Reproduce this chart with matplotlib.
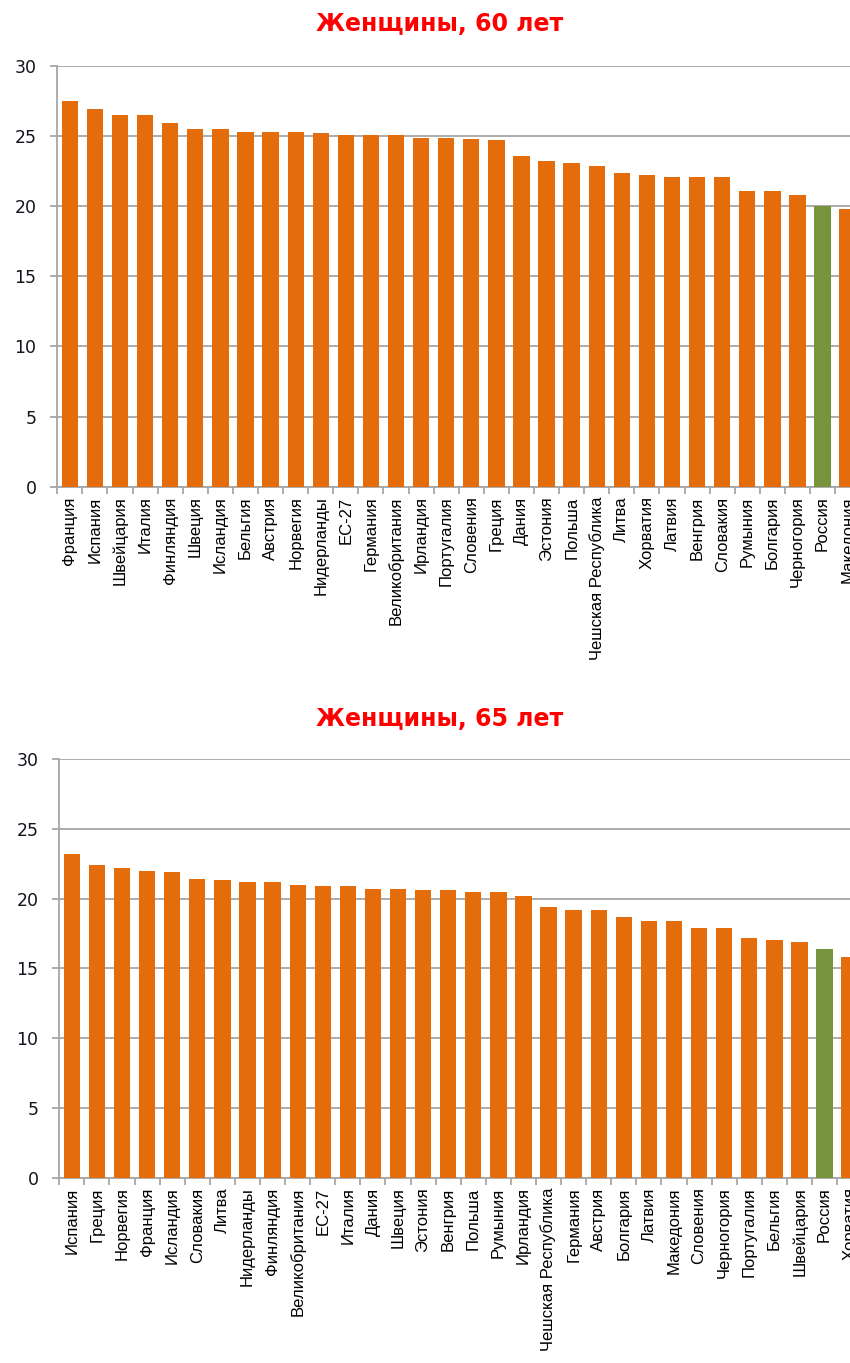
import matplotlib.pyplot as plt
import numpy as np

# Female life expectancy at 60 and 65 (years)
countries_60 = ['Франция', 'Испания', 'Швейцария', 'Италия', 'Финляндия', 'Швеция',
                'Исландия', 'Бельгия', 'Австрия', 'Норвегия', 'Нидерланды', 'ЕС-27',
                'Германия', 'Великобритания', 'Ирландия', 'Португалия', 'Словения',
                'Греция', 'Дания', 'Эстония', 'Польша', 'Чешская Республика', 'Литва',
                'Хорватия', 'Латвия', 'Венгрия', 'Словакия', 'Румыния', 'Болгария',
                'Черногория', 'Россия', 'Македония']
values_60 = [27.5, 26.9, 26.5, 26.5, 25.9, 25.5, 25.5, 25.3, 25.3, 25.3, 25.2, 25.1,
             25.1, 25.1, 24.9, 24.9, 24.8, 24.7, 23.6, 23.2, 23.1, 22.9, 22.4, 22.2,
             22.1, 22.1, 22.1, 21.1, 21.1, 20.8, 20.0, 19.8]

countries_65 = ['Испания', 'Греция', 'Норвегия', 'Франция', 'Исландия', 'Словакия',
                'Литва', 'Нидерланды', 'Финляндия', 'Великобритания', 'ЕС-27', 'Италия',
                'Дания', 'Швеция', 'Эстония', 'Венгрия', 'Польша', 'Румыния', 'Ирландия',
                'Чешская Республика', 'Германия', 'Австрия', 'Болгария', 'Латвия',
                'Македония', 'Словения', 'Черногория', 'Португалия', 'Бельгия',
                'Швейцария', 'Россия', 'Хорватия']
values_65 = [23.2, 22.4, 22.2, 22.0, 21.9, 21.4, 21.3, 21.2, 21.2, 21.0, 20.9, 20.9,
             20.7, 20.7, 20.6, 20.6, 20.5, 20.5, 20.2, 19.4, 19.2, 19.2, 18.7, 18.4,
             18.4, 17.9, 17.9, 17.2, 17.0, 16.9, 16.4, 15.8]

ORANGE = '#E46C0A'
GREEN = '#77933C'
GRID = '#A6A6A6'

W, H = 850, 1363
STEP = 25.09  # px per category
fig = plt.figure(figsize=(W / 100, H / 100), dpi=100)


def draw(rect, names, vals, title, title_y, right_lim):
    ax = fig.add_axes(rect)
    x = np.arange(len(names))
    colors = [GREEN if n == 'Россия' else ORANGE for n in names]
    ax.bar(x, vals, width=0.65, color=colors, zorder=3)
    ax.set_yticks(range(0, 31, 5))
    ax.yaxis.grid(True, color=GRID, linewidth=1.3, zorder=0)
    for s in ['top', 'right']:
        ax.spines[s].set_visible(False)
    for s in ['left', 'bottom']:
        ax.spines[s].set_color(GRID)
        ax.spines[s].set_linewidth(1.3)
    ax.tick_params(axis='y', length=5, width=1.3, color=GRID, pad=10,
                   labelsize=12.5, labelcolor='#14141e')
    ax.set_xticks(x)
    ax.set_xticklabels(names, rotation=90, fontsize=12, family='Liberation Sans')
    ax.set_xticks(np.arange(len(names) + 1) - 0.5, minor=True)
    ax.tick_params(axis='x', which='major', length=0, pad=7)
    ax.tick_params(axis='x', which='minor', length=5, width=1.3, color=GRID)
    # limits last, set_xticks would widen them otherwise
    ax.set_ylim(0, 30)
    ax.set_xlim(-0.5, right_lim)
    fig.text(440 / W, title_y, title, color='#FF0000', fontsize=17,
             fontweight='bold', ha='center', va='center', family='DejaVu Sans')
    return ax


# top chart: axis at x=57, y from 66 (30) to 487 (0)
left1 = 57.3 / W
draw([left1, 1 - 486.7 / H, 1 - left1, (486.7 - 66) / H], countries_60, values_60,
     'Женщины, 60 лет', 1 - 24 / H, -0.5 + (W - 57.3) / STEP)

# bottom chart: axis at x=59, y from 759 (30) to 1178 (0)
left2 = 59.3 / W
draw([left2, 1 - 1177.7 / H, 1 - left2, (1177.7 - 759) / H], countries_65, values_65,
     'Женщины, 65 лет', 1 - 719 / H, -0.5 + (W - 59.3) / STEP)

fig.savefig('out.png', dpi=100)
